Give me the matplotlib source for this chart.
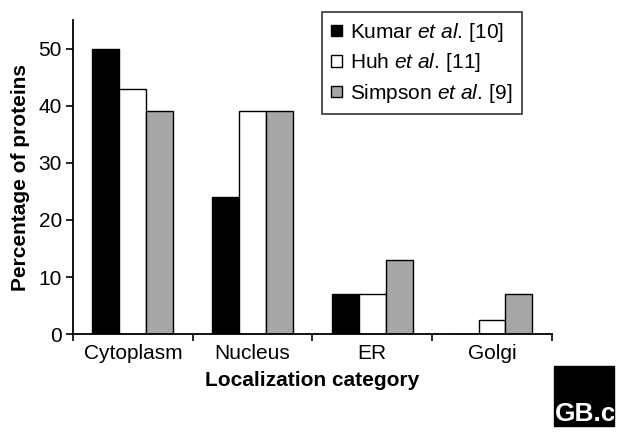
import matplotlib.pyplot as plt
import numpy as np
from matplotlib.patches import Rectangle

plt.rcParams['font.family'] = ['Liberation Sans', 'DejaVu Sans']
plt.rcParams['mathtext.fontset'] = 'custom'
plt.rcParams['mathtext.rm'] = 'Liberation Sans'
plt.rcParams['mathtext.it'] = 'Liberation Sans:italic'

categories = ['Cytoplasm', 'Nucleus', 'ER', 'Golgi']
kumar = [50, 24, 7, 0]
huh = [43, 39, 7, 2.5]
simpson = [39, 39, 13, 7]
series_labels = ['Kumar $\\mathit{et\\ al.}\\,$[10]', 'Huh $\\mathit{et\\ al.}\\,$[11]',
                 'Simpson $\\mathit{et\\ al.}\\,$[9]']
colors = ['black', 'white', '#a6a6a6']
yticks = [0, 10, 20, 30, 40, 50]

fig = plt.figure(figsize=(6.35, 4.45), dpi=100)
ax = fig.add_axes([0.115, 0.249, 0.754, 0.706])

x = np.arange(len(categories))
w = 0.225
for i, (vals, c, lab) in enumerate(zip([kumar, huh, simpson], colors, series_labels)):
    ax.bar(x + (i - 1) * w, vals, w, color=c, edgecolor='black', linewidth=1.0, label=lab)

ax.set_xlim(-0.5, len(categories) - 0.5)
ax.set_ylim(0, 55)
ax.set_yticks(yticks)
ax.set_xticks(np.arange(len(categories) + 1) - 0.5, minor=True)
ax.set_xticks(x)
ax.set_xticklabels(categories, fontsize=15)
ax.tick_params(axis='x', which='major', length=0, pad=7)
ax.tick_params(axis='x', which='minor', length=5, width=1.2, direction='out')
ax.tick_params(axis='y', labelsize=15, length=5, width=1.2, direction='out', pad=3)

for s in ['top', 'right']:
    ax.spines[s].set_visible(False)
for s in ['left', 'bottom']:
    ax.spines[s].set_linewidth(1.3)

ax.set_ylabel('Percentage of proteins', fontsize=15, fontweight='bold', labelpad=6)
ax.set_xlabel('Localization category', fontsize=15, fontweight='bold', labelpad=6)

leg = ax.legend(loc='upper left', bbox_to_anchor=(0.52, 1.027), fontsize=15,
                frameon=True, fancybox=False, edgecolor='black',
                handlelength=0.5, handleheight=0.5, handletextpad=0.4,
                borderpad=0.45, labelspacing=0.36, borderaxespad=0)
leg.get_frame().set_linewidth(1.2)

# GB.c logo box
logo = Rectangle((554 / 635, 1 - 426 / 445), 60 / 635, 60 / 445,
                 transform=fig.transFigure, color='black')
fig.patches.append(logo)
t = fig.text(555 / 635, 1 - 421 / 445, 'GB.c', color='white', fontsize=19,
             fontweight='bold', ha='left', va='baseline')
t.set_clip_path(logo)

plt.savefig('out.png', dpi=100, facecolor='white')
